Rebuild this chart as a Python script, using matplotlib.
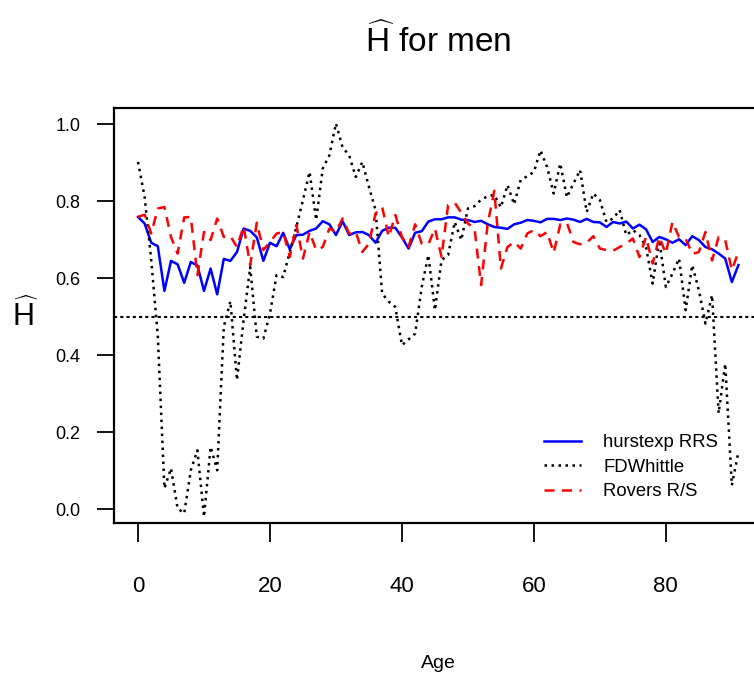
import matplotlib
matplotlib.use("Agg")
import matplotlib.pyplot as plt

plt.rcParams['font.family'] = ['Liberation Sans', 'DejaVu Sans']
plt.rcParams['mathtext.fontset'] = 'custom'
plt.rcParams['mathtext.rm'] = 'Liberation Sans'
plt.rcParams['mathtext.it'] = 'Liberation Sans:italic'

# ages 0..91
ages = list(range(0, 92))

hurstexp_rrs = [0.759, 0.742, 0.692, 0.683, 0.567, 0.645, 0.636, 0.588, 0.642, 0.633,
                0.567, 0.625, 0.558, 0.650, 0.645, 0.668, 0.729, 0.723, 0.706, 0.645,
                0.692, 0.683, 0.718, 0.675, 0.712, 0.713, 0.723, 0.729, 0.748, 0.740,
                0.712, 0.748, 0.712, 0.719, 0.720, 0.712, 0.692, 0.723, 0.731, 0.731,
                0.706, 0.677, 0.718, 0.722, 0.747, 0.753, 0.753, 0.758, 0.758, 0.752,
                0.751, 0.746, 0.749, 0.740, 0.733, 0.731, 0.728, 0.740, 0.744, 0.751,
                0.749, 0.745, 0.754, 0.754, 0.751, 0.755, 0.752, 0.746, 0.754, 0.746,
                0.745, 0.733, 0.746, 0.742, 0.747, 0.729, 0.739, 0.727, 0.694, 0.707,
                0.701, 0.692, 0.701, 0.686, 0.709, 0.699, 0.681, 0.675, 0.664, 0.651,
                0.590, 0.634]

fdwhittle = [0.902, 0.811, 0.647, 0.450, 0.054, 0.106, 0.002, -0.011, 0.101, 0.153,
             -0.020, 0.162, 0.101, 0.474, 0.540, 0.335, 0.491, 0.629, 0.448, 0.443,
             0.508, 0.608, 0.603, 0.668, 0.733, 0.803, 0.876, 0.751, 0.885, 0.919,
             1.002, 0.940, 0.919, 0.863, 0.902, 0.837, 0.777, 0.560, 0.539, 0.525,
             0.426, 0.441, 0.456, 0.577, 0.660, 0.517, 0.647, 0.660, 0.746, 0.699,
             0.781, 0.787, 0.804, 0.813, 0.816, 0.784, 0.842, 0.792, 0.855, 0.865,
             0.876, 0.932, 0.889, 0.820, 0.898, 0.810, 0.846, 0.881, 0.772, 0.820,
             0.803, 0.746, 0.755, 0.777, 0.712, 0.725, 0.712, 0.680, 0.586, 0.699,
             0.577, 0.612, 0.651, 0.517, 0.634, 0.569, 0.482, 0.556, 0.249, 0.378,
             0.062, 0.149]

rovers_rs = [0.759, 0.765, 0.716, 0.781, 0.785, 0.707, 0.664, 0.758, 0.759, 0.608,
             0.720, 0.699, 0.755, 0.707, 0.709, 0.681, 0.735, 0.634, 0.744, 0.673,
             0.694, 0.716, 0.720, 0.655, 0.738, 0.651, 0.720, 0.673, 0.681, 0.729,
             0.720, 0.755, 0.716, 0.720, 0.668, 0.690, 0.768, 0.785, 0.707, 0.764,
             0.707, 0.681, 0.740, 0.690, 0.688, 0.729, 0.655, 0.790, 0.796, 0.770,
             0.742, 0.729, 0.582, 0.742, 0.827, 0.625, 0.681, 0.694, 0.677, 0.716,
             0.725, 0.709, 0.720, 0.666, 0.740, 0.744, 0.694, 0.688, 0.692, 0.709,
             0.677, 0.673, 0.671, 0.681, 0.690, 0.703, 0.655, 0.707, 0.638, 0.707,
             0.664, 0.746, 0.707, 0.703, 0.663, 0.668, 0.720, 0.646, 0.707, 0.699,
             0.621, 0.668]

x_ticks = [0, 20, 40, 60, 80]
y_ticks = [0.0, 0.2, 0.4, 0.6, 0.8, 1.0]
y_ticklabels = ['0.0', '0.2', '0.4', '0.6', '0.8', '1.0']

fig = plt.figure(figsize=(7.54, 6.76), dpi=100)
ax = fig.add_axes([0.1512, 0.2263, 0.860, 0.6139])

ax.plot(ages, hurstexp_rrs, color='blue', linewidth=1.8, label='hurstexp RRS')
ax.plot(ages, fdwhittle, color='black', linewidth=1.8, dashes=(1.0, 1.8),
        label='FDWhittle')
ax.plot(ages, rovers_rs, color='red', linewidth=1.8, dashes=(4.0, 3.0),
        label='Rovers R/S')
ax.axhline(0.5, color='black', linewidth=1.5, dashes=(1.5, 1.5))

ax.set_xlim(-3.64, 94.64)
ax.set_ylim(-0.036, 1.042)

ax.set_xticks(x_ticks)
ax.set_xticklabels([str(t) for t in x_ticks], fontsize=16)
ax.set_yticks(y_ticks)
ax.set_yticklabels(y_ticklabels, fontsize=13)
ax.tick_params(axis='x', length=14, width=1.3, pad=24)
ax.tick_params(axis='y', length=12, width=1.3, pad=12)
for s in ax.spines.values():
    s.set_linewidth(1.6)

ax.set_xlabel('Age', fontsize=14, labelpad=42)
ax.set_ylabel(r'$\widehat{\mathrm{H}}$', fontsize=22, rotation=0, labelpad=22,
              va='center')
ax.set_title(r'$\widehat{\mathrm{H}}$ for men', fontsize=24, pad=40)

ax.legend(loc='lower right', bbox_to_anchor=(0.957, 0.015), frameon=False,
          fontsize=13.3, handlelength=2.0, handletextpad=1.2, labelspacing=0.4)

fig.savefig('out.png', dpi=100)
